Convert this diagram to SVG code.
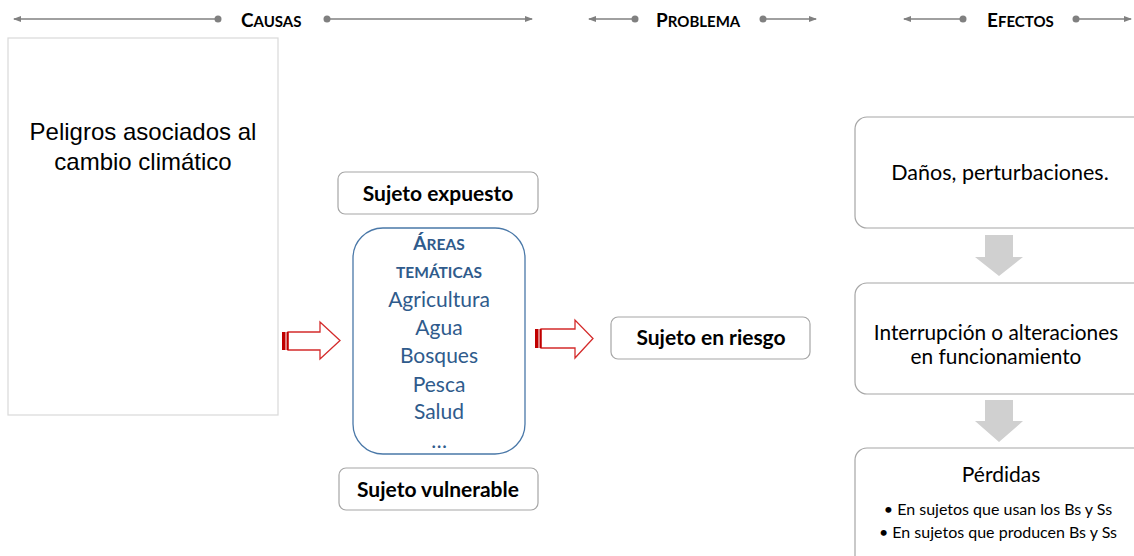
<svg xmlns="http://www.w3.org/2000/svg" width="1134" height="556" viewBox="0 0 1134 556">
<defs>
<marker id="ah" markerWidth="8" markerHeight="6" refX="7" refY="3" orient="auto" markerUnits="userSpaceOnUse">
<path d="M0,0 L8,3 L0,6 Z" fill="#808080"/>
</marker>
<style>
.hl{stroke:#808080;stroke-width:1.6;fill:none}
.dot{fill:#808080}
.ht{font-family:Lato,"Liberation Sans",sans-serif;font-weight:bold;fill:#000}
.sbox{fill:#fff;stroke:#A6A6A6;stroke-width:1.2}
.ebox{fill:#fff;stroke:#A6A6A6;stroke-width:1.2}
.cal{font-family:Lato,"Open Sans",sans-serif;fill:#000;text-anchor:middle}
.blue{font-family:Lato,"Open Sans",sans-serif;fill:#2F5B8C;text-anchor:middle}
.red{fill:#fff;stroke:#D42B2B;stroke-width:1.3}
.redbar{fill:#C00000}
.gray{fill:#D0D0D0}
</style>
</defs>
<rect width="1134" height="556" fill="#fff"/>

<g id="header">
<line class="hl" x1="218" y1="19" x2="14" y2="19" marker-end="url(#ah)"/>
<circle class="dot" cx="218" cy="19" r="3.5"/>
<line class="hl" x1="327" y1="19" x2="532" y2="19" marker-end="url(#ah)"/>
<circle class="dot" cx="327" cy="19" r="3.5"/>
<text class="ht" x="241" y="27"><tspan font-size="19">C</tspan><tspan font-size="15">AUSAS</tspan></text>

<line class="hl" x1="635" y1="19" x2="589" y2="19" marker-end="url(#ah)"/>
<circle class="dot" cx="635" cy="19" r="3.5"/>
<line class="hl" x1="763" y1="19" x2="816" y2="19" marker-end="url(#ah)"/>
<circle class="dot" cx="763" cy="19" r="3.5"/>
<text class="ht" x="656" y="27"><tspan font-size="19">P</tspan><tspan font-size="15">ROBLEMA</tspan></text>

<line class="hl" x1="963" y1="19" x2="904" y2="19" marker-end="url(#ah)"/>
<circle class="dot" cx="963" cy="19" r="3.5"/>
<line class="hl" x1="1076" y1="19" x2="1131" y2="19" marker-end="url(#ah)"/>
<circle class="dot" cx="1076" cy="19" r="3.5"/>
<text class="ht" x="987" y="27"><tspan font-size="19">E</tspan><tspan font-size="15">FECTOS</tspan></text>
</g>

<g id="peligros">
<rect x="8" y="38" width="270" height="377" fill="#fff" stroke="#D9D9D9" stroke-width="1.2"/>
<text font-family="'Liberation Sans',Arial,sans-serif" font-size="24" text-anchor="middle" fill="#000"><tspan x="143" y="140">Peligros asociados al</tspan><tspan x="143" y="170">cambio climático</tspan></text>
</g>

<g id="sujeto-expuesto">
<rect class="sbox" x="338" y="172" width="200" height="42" rx="7"/>
<text class="cal" x="438" y="201" font-size="21" font-weight="bold">Sujeto expuesto</text>
</g>

<g id="areas">
<rect x="353" y="228" width="172" height="226" rx="30" fill="#fff" stroke="#4A78A8" stroke-width="1.3"/>
<text class="blue" x="439" y="250" font-weight="bold"><tspan font-size="19">Á</tspan><tspan font-size="15.5">REAS</tspan></text>
<text class="blue" x="439" y="278" font-weight="bold" font-size="15.5">TEMÁTICAS</text>
<text class="blue" font-size="21"><tspan x="439" y="307">Agricultura</tspan><tspan x="439" y="335">Agua</tspan><tspan x="439" y="363">Bosques</tspan><tspan x="439" y="392">Pesca</tspan><tspan x="439" y="419">Salud</tspan><tspan x="439" y="448">…</tspan></text>
</g>

<g id="sujeto-vulnerable">
<rect class="sbox" x="339" y="468" width="199" height="42" rx="7"/>
<text class="cal" x="438" y="497" font-size="21" font-weight="bold">Sujeto vulnerable</text>
</g>

<g id="sujeto-riesgo">
<rect class="sbox" x="611" y="317" width="199" height="42" rx="7"/>
<text class="cal" x="711" y="345" font-size="21" font-weight="bold">Sujeto en riesgo</text>
</g>

<g id="danos">
<rect class="ebox" x="855" y="117" width="300" height="111" rx="12"/>
<text class="cal" x="1000" y="180" font-size="21.5">Daños, perturbaciones.</text>
</g>

<g id="interrupcion">
<rect class="ebox" x="855" y="283" width="300" height="111" rx="12"/>
<text class="cal" font-size="20.8"><tspan x="996" y="340">Interrupción o alteraciones</tspan><tspan x="996" y="364">en funcionamiento</tspan></text>
</g>

<g id="perdidas">
<rect class="ebox" x="855" y="448" width="300" height="130" rx="12"/>
<text class="cal" x="1001" y="482" font-size="21">Pérdidas</text>
<text class="cal" font-size="16"><tspan x="998" y="515">• En sujetos que usan los Bs y Ss</tspan><tspan x="998" y="538">• En sujetos que producen Bs y Ss</tspan></text>
</g>

<g id="connectors">
<g id="arrow-causas">
<path class="red" d="M288,332 L320,332 L320,322 L340,340.5 L320,359 L320,350 L288,350 Z"/>
<rect class="redbar" x="282" y="332" width="3.5" height="18"/>
<rect class="redbar" x="286.5" y="332" width="2" height="18"/>
</g>
<g id="arrow-problema">
<path class="red" d="M541,329 L575,329 L575,320 L593,338.5 L575,358 L575,348 L541,348 Z"/>
<rect class="redbar" x="535" y="329" width="3.5" height="19"/>
<rect class="redbar" x="539.5" y="329" width="2" height="19"/>
</g>
<path class="gray" d="M985,235 L1013,235 L1013,257 L1023,257 L999,276 L975,257 L985,257 Z"/>
<path class="gray" d="M985,400 L1013,400 L1013,421 L1023,421 L999,442 L975,421 L985,421 Z"/>
</g>
</svg>
